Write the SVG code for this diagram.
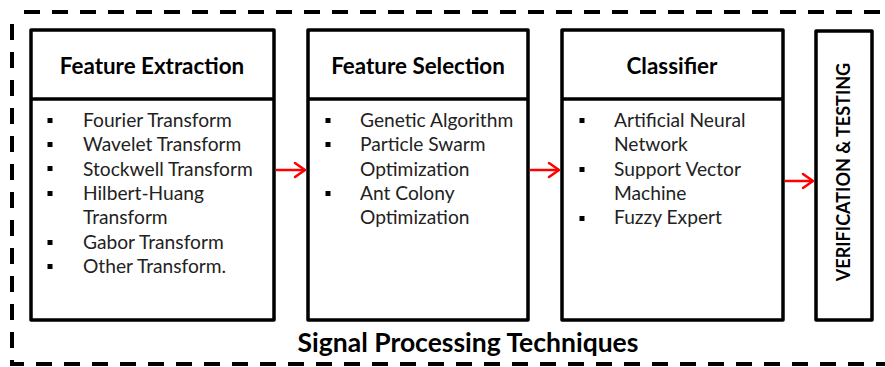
<svg xmlns="http://www.w3.org/2000/svg" width="885" height="367" viewBox="0 0 885 367">
  <defs>
    <style>
      .box{fill:#fff;stroke:#000;stroke-width:3.5;stroke-linejoin:round}
      .div{stroke:#000;stroke-width:3.5}
      .hdr{font-family:Lato,"Open Sans",sans-serif;font-weight:700;font-size:22.4px;fill:#000;text-anchor:middle}
      .item{font-family:Lato,"Open Sans",sans-serif;font-size:19.2px;fill:#222}
      .bul{fill:#000}
      .conn{stroke:#f00;stroke-width:2.5;fill:none}
      .ah{stroke:#f00;stroke-width:2.5;fill:none;stroke-linecap:round;stroke-linejoin:round}
    </style>
  </defs>
  <rect x="0" y="0" width="885" height="367" fill="#fff"/>
  <path d="M12,12 H900 M12,12 V364 H900" fill="none" stroke="#000" stroke-width="4" stroke-dasharray="16,12" stroke-dashoffset="-12"/>

  <g id="feature-extraction">
    <rect class="box" x="31" y="30" width="243" height="290"/>
    <line class="div" x1="31" y1="99" x2="274" y2="99"/>
    <text class="hdr" x="152" y="74">Feature Extraction</text>
    <rect class="bul" x="47.5" y="118" width="5" height="5"/>
    <rect class="bul" x="47.5" y="142" width="5" height="5"/>
    <rect class="bul" x="47.5" y="166" width="5" height="5"/>
    <rect class="bul" x="47.5" y="191" width="5" height="5"/>
    <rect class="bul" x="47.5" y="240" width="5" height="5"/>
    <rect class="bul" x="47.5" y="264" width="5" height="5"/>
    <text class="item" x="83" y="127">Fourier Transform</text>
    <text class="item" x="83" y="151">Wavelet Transform</text>
    <text class="item" x="83" y="176">Stockwell Transform</text>
    <text class="item" x="83" y="200">Hilbert-Huang</text>
    <text class="item" x="83" y="224">Transform</text>
    <text class="item" x="83" y="249">Gabor Transform</text>
    <text class="item" x="83" y="273">Other Transform.</text>
  </g>

  <g id="feature-selection">
    <rect class="box" x="308" y="30" width="220" height="290"/>
    <line class="div" x1="308" y1="99" x2="528" y2="99"/>
    <text class="hdr" x="418" y="74">Feature Selection</text>
    <rect class="bul" x="325.5" y="118" width="5" height="5"/>
    <rect class="bul" x="325.5" y="142" width="5" height="5"/>
    <rect class="bul" x="325.5" y="191" width="5" height="5"/>
    <text class="item" x="360" y="127">Genetic Algorithm</text>
    <text class="item" x="360" y="151">Particle Swarm</text>
    <text class="item" x="360" y="176">Optimization</text>
    <text class="item" x="360" y="200">Ant Colony</text>
    <text class="item" x="360" y="224">Optimization</text>
  </g>

  <g id="classifier">
    <rect class="box" x="562" y="30" width="221" height="290"/>
    <line class="div" x1="562" y1="99" x2="783" y2="99"/>
    <text class="hdr" x="672" y="74">Classifier</text>
    <rect class="bul" x="579.5" y="118" width="5" height="5"/>
    <rect class="bul" x="579.5" y="167" width="5" height="5"/>
    <rect class="bul" x="579.5" y="216" width="5" height="5"/>
    <text class="item" x="614" y="127">Artificial Neural</text>
    <text class="item" x="614" y="151">Network</text>
    <text class="item" x="614" y="176">Support Vector</text>
    <text class="item" x="614" y="200">Machine</text>
    <text class="item" x="614" y="224">Fuzzy Expert</text>
  </g>

  <g id="verification-testing">
    <rect class="box" x="816" y="31" width="56" height="289"/>
    <text font-family="Lato,'Open Sans',sans-serif" font-weight="700" font-size="18" fill="#000" text-anchor="middle" transform="translate(850,172) rotate(-90)">VERIFICATION &amp; TESTING</text>
  </g>

  <g id="connectors">
    <line class="conn" x1="276" y1="170" x2="305" y2="170"/>
    <path class="ah" d="M295,163 L305,170 L295,177"/>
    <line class="conn" x1="530" y1="170" x2="559" y2="170"/>
    <path class="ah" d="M549,163 L559,170 L549,177"/>
    <line class="conn" x1="785" y1="181" x2="813" y2="181"/>
    <path class="ah" d="M803,174 L813,181 L803,188"/>
  </g>

  <text id="title" x="468" y="352" font-family="Lato,'Open Sans',sans-serif" font-weight="700" font-size="26.5" fill="#000" text-anchor="middle">Signal Processing Techniques</text>
</svg>
